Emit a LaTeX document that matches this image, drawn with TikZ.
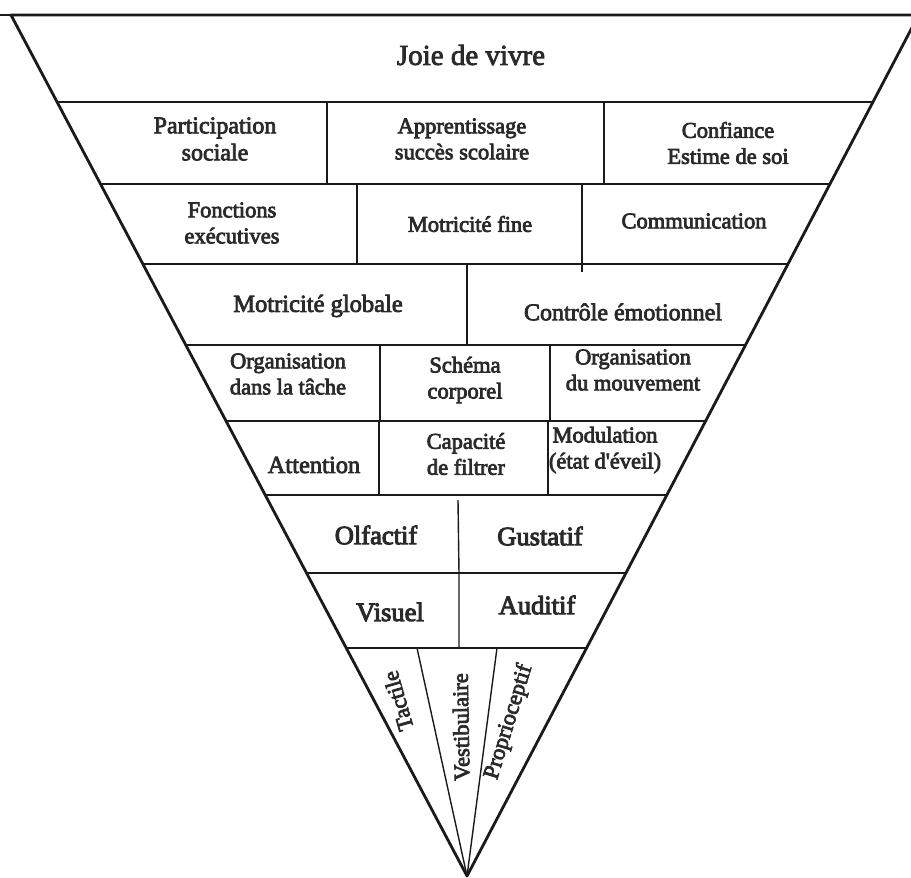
\documentclass[tikz,border=0pt]{standalone}
\usepackage{fontspec}
\setmainfont{Liberation Serif}
\usetikzlibrary{calc}
\definecolor{ln}{HTML}{1A1A1A}
\definecolor{txt}{HTML}{2A2A2A}
\newcommand{\thick}[1]{\special{pdf:literal direct 2 Tr #1 w}}
\newcommand{\unthick}{\special{pdf:literal direct 0 Tr}}
\tikzset{
  outer/.style={draw=ln, line width=2.8pt, line join=round},
  inner/.style={draw=ln, line width=1.4pt},
  lbl/.style={font=\fontsize{22.5}{26}\selectfont, align=center, text=txt, inner sep=0pt,
    execute at begin node=\thick{0.75}, execute at end node=\unthick},
  biglbl/.style={lbl, font=\fontsize{29}{32}\selectfont},
  senselbl/.style={lbl, font=\fontsize{26.5}{28}\selectfont,
    execute at begin node=\thick{1.0}},
}
\newcommand{\hsep}[1]{\draw[inner] ($(A)!{(#1-15)/861}!(P)$) -- ($(R)!{(#1-15)/861}!(P)$);}
\begin{document}
\begin{tikzpicture}[x=1pt,y=-1pt]
\useasboundingbox (0,0) rectangle (911,878);
\fill[white] (0,0) rectangle (911,878);
\clip (0,0) rectangle (911,878);
% outer triangle
\coordinate (A) at (11,15);
\coordinate (P) at (467,876);
\coordinate (R) at (918.6,15);
% horizontal separators
\hsep{102}
\hsep{184}
\hsep{264}
\hsep{345}
\hsep{421}
\hsep{495}
\hsep{573}
\hsep{648}
% vertical dividers
\draw[inner] (327,102) -- (327,184);
\draw[inner] (604,102) -- (604,184);
\draw[inner] (357,184) -- (357,264);
\draw[inner] (582,184) -- (582,272);
\draw[inner] (467,264) -- (467,345);
\draw[inner] (380,345) -- (380,421);
\draw[inner] (550,345) -- (550,421);
\draw[inner] (379,421) -- (379,495);
\draw[inner] (548,421) -- (548,495);
\draw[inner] (458,500) -- (459,573) -- (459,648);
\coordinate (t1) at (417,648);
\coordinate (t2) at (497,648);
\draw[inner] (t1) -- (P);
\draw[inner] (t2) -- (P);
% outline
\draw[outer] (A) -- (P) -- (R) -- cycle;
\draw[outer] (0,15) -- (A);
% labels
\node[biglbl] (joie) at (471,55) {Joie de vivre};
\node[lbl, font=\fontsize{24}{27}\selectfont] (part) at (215,139) {Participation\\sociale};
\node[lbl] (appr) at (462,139) {Apprentissage\\succès scolaire};
\node[lbl] (conf) at (728,143) {Confiance\\Estime de soi};
\node[lbl] (fonc) at (232,223) {Fonctions\\exécutives};
\node[lbl] (mfine) at (470,224) {Motricité fine};
\node[lbl] (comm) at (694,221) {Communication};
\node[lbl, font=\fontsize{24.5}{26}\selectfont] (mglob) at (318,306) {Motricité globale};
\node[lbl, font=\fontsize{24}{26}\selectfont] (ctrl) at (623,312) {Contrôle émotionnel};
\node[lbl] (orgt) at (288,374) {Organisation\\dans la tâche};
\node[lbl] (sche) at (465,380) {Schéma\\corporel};
\node[lbl] (orgm) at (633,370) {Organisation\\du mouvement};
\node[lbl, font=\fontsize{24.5}{26}\selectfont] (att) at (314,465) {Attention};
\node[lbl] (capa) at (466,454) {Capacité\\de filtrer};
\node[lbl] (modu) at (605,450) {Modulation\\(état d\textquotesingle éveil)};
\node[senselbl] (olf) at (376,535) {Olfactif};
\node[senselbl] (gus) at (540,536) {Gustatif};
\node[senselbl] (vis) at (390,612) {Visuel};
\node[senselbl] (aud) at (537,605) {Auditif};
\node[lbl, rotate=106] (tact) at (398,701) {Tactile};
\node[lbl, rotate=91] (vest) at (461,727) {Vestibulaire};
\node[lbl, rotate=73] (prop) at (509,722) {Proprioceptif};
\end{tikzpicture}
\end{document}
